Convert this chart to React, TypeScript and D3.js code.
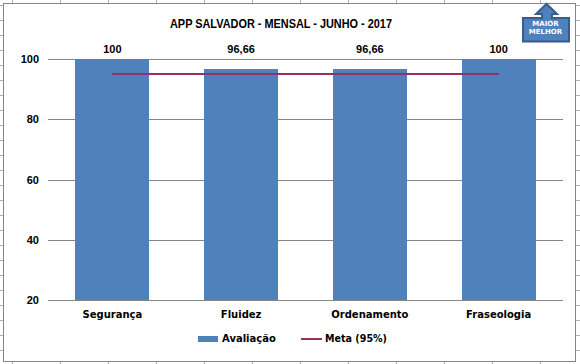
import React from "react";
import * as d3 from "d3";

const categories = ["Segurança", "Fluidez", "Ordenamento", "Fraseologia"];
const evaluation = [100, 96.66, 96.66, 100];
const evaluationLabels = ["100", "96,66", "96,66", "100"];
const target = [95, 95, 95, 95];
const yTicks = [20, 40, 60, 80, 100];
const title = "APP SALVADOR - MENSAL - JUNHO - 2017";
const legendNames = ["Avaliação", "Meta (95%)"];
const sheetColumns = d3.range(12, 580, 48);
const sheetRows = d3.range(5, 364, 15);

const BLUE = "#4f81bd";
const LINE = "#953060";
const GRID = "#868686";
const FONT = "'DejaVu Sans', sans-serif";
const NUMFONT = "'Liberation Sans', sans-serif";

export default function App() {
  const x = d3.scaleBand().domain(categories).range([48, 563]).paddingInner(0.425).paddingOuter(0.2125);
  const y = d3.scaleLinear().domain([20, 100]).range([300, 59]);
  const cx = (c: string) => (x(c) as number) + x.bandwidth() / 2;
  const line = d3.line<number>().x((_, i) => cx(categories[i])).y((d) => y(d));
  return (
    <svg width={580} height={364} style={{ position: "fixed", left: 0, top: 0, display: "block" }} shapeRendering="crispEdges">
      <rect width={580} height={364} fill="#ffffff" />
      {sheetColumns.map((c) => (
        <line key={c} x1={c + 0.5} x2={c + 0.5} y1={0} y2={364} stroke="#b0b0b0" />
      ))}
      {sheetRows.map((r) => (
        <line key={r} x1={0} x2={580} y1={r + 0.5} y2={r + 0.5} stroke="#b0b0b0" />
      ))}
      <rect x={3.5} y={3.5} width={572} height={358} fill="#ffffff" stroke="#868686" strokeWidth={1.5} />
      {yTicks.map((t) => (
        <line key={t} x1={48} x2={563} y1={Math.round(y(t)) + 0.5} y2={Math.round(y(t)) + 0.5} stroke={GRID} />
      ))}
      {categories.map((c, i) => (
        <rect key={c} x={x(c)} y={y(evaluation[i])} width={x.bandwidth()} height={y(20) - y(evaluation[i])} fill={BLUE} />
      ))}
      <path d={line(target) as string} fill="none" stroke={LINE} strokeWidth={2} />
      <g fontFamily={NUMFONT} fontWeight="bold" fontSize={11} fill="#000">
        {yTicks.map((t) => (
          <text key={t} x={39} y={y(t) + 4} textAnchor="end">{t}</text>
        ))}
        {categories.map((c, i) => (
          <text key={c} x={cx(c)} y={53} textAnchor="middle">{evaluationLabels[i]}</text>
        ))}
      </g>
      <g fontFamily={FONT} fontWeight="bold" fontSize={10} fill="#000">
        {categories.map((c) => (
          <text key={c} x={cx(c)} y={318} textAnchor="middle">{c}</text>
        ))}
        <rect x={198} y={336} width={20} height={6} fill={BLUE} />
        <text x={222} y={342}>{legendNames[0]}</text>
        <line x1={301} x2={322} y1={339} y2={339} stroke={LINE} strokeWidth={1.5} />
        <text x={325} y={342} textLength={62} lengthAdjust="spacingAndGlyphs">{legendNames[1]}</text>
      </g>
      <text x={281} y={28} textAnchor="middle" textLength={222} lengthAdjust="spacingAndGlyphs" fontFamily={NUMFONT} fontWeight="bold" fontSize={12} fill="#000">{title}</text>
      <path shapeRendering="auto" d="M523 18 L542 18 L542 14 L536 14 L546.5 4 L557 14 L552 14 L552 18 L569 18 L569 41.5 L523 41.5 Z" fill={BLUE} stroke="#385d8a" strokeWidth={2} />
      <g fontFamily={FONT} fontWeight="bold" fontSize={7} fill="#fff" textAnchor="middle">
        <text x={545.5} y={25.5}>MAIOR</text>
        <text x={545.5} y={34}>MELHOR</text>
      </g>
    </svg>
  );
}
